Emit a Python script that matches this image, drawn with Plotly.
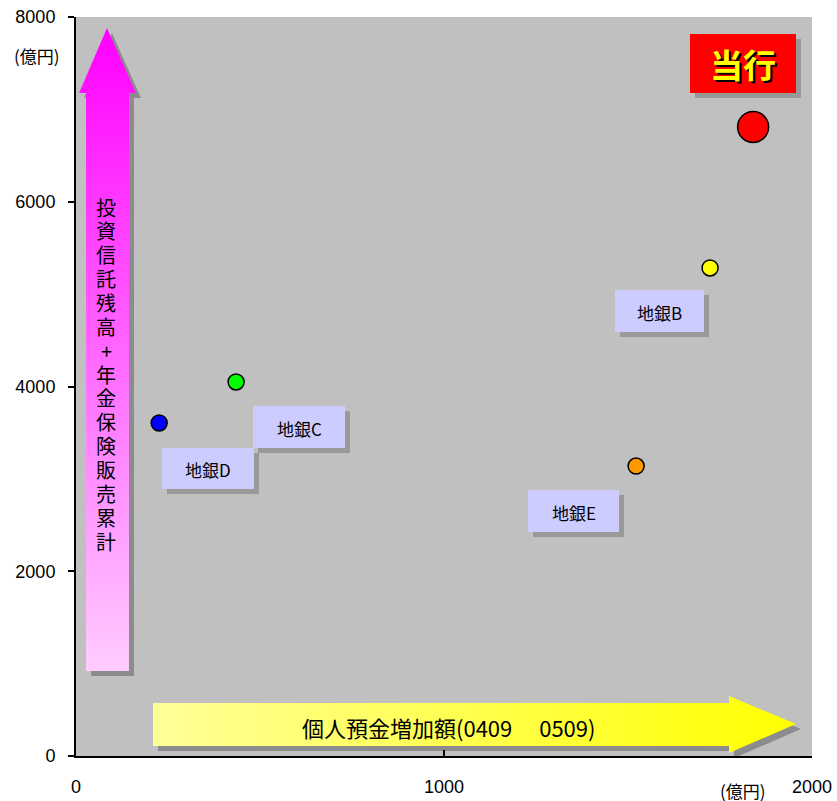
import plotly.graph_objects as go

# ---- data ----
banks = ["当行", "地銀B", "地銀C", "地銀D", "地銀E"]
deposit_increase = [1840, 1723, 435, 226, 1522]          # x (億円)
trust_pension_total = [6810, 5283, 4049, 3605, 3139]     # y (億円)
colors = ["#FF0000", "#FFFF00", "#00FF00", "#0000FF", "#FF9900"]
marker_sizes = [31, 16, 16, 16, 16]
x_ticks = [0, 1000, 2000]
y_ticks = [0, 2000, 4000, 6000, 8000]
x_title = "個人預金増加額(0409　 0509)"
y_title = "投資信託残高+年金保険販売累計"
unit = "(億円)"

FONT = "Liberation Sans, Arial, Noto Sans CJK JP"
CJK = "Noto Sans CJK JP, Liberation Sans"

# plot-area pixel frame
L, R, T, B = 76, 812, 17, 756

def px_paper(px, py):
    return (px - L) / (R - L), (B - py) / (B - T)

fig = go.Figure()

# decorative arrows drawn on an overlay axis that works in page pixels
def poly(pts, dx=0, dy=0):
    xs = [p[0] + dx for p in pts] + [pts[0][0] + dx]
    ys = [p[1] + dy for p in pts] + [pts[0][1] + dy]
    return xs, ys

def path(pts, dx=0, dy=0):
    return "M " + " L ".join(f"{p[0]+dx},{p[1]+dy}" for p in pts) + " Z"

v_arrow = [(107, 28), (136, 93), (129, 93), (129, 671), (86, 671), (86, 93), (79, 93)]
h_arrow = [(153, 703), (729, 703), (729, 696), (796, 724), (729, 753), (729, 746), (153, 746)]

shapes = []
for a in (v_arrow, h_arrow):
    shapes.append(dict(type="path", path=path(a, 5, 5), xref="x2", yref="y2",
                       fillcolor="#8C8C8C", line=dict(width=0), layer="below"))

xs, ys = poly(v_arrow)
fig.add_trace(go.Scatter(x=xs, y=ys, xaxis="x2", yaxis="y2", mode="lines",
                         line=dict(width=0), fill="toself",
                         fillgradient=dict(type="vertical", start=28, stop=671,
                                           colorscale=[[0, "#FF00FF"], [1, "#FFCCFF"]]),
                         hoverinfo="skip", showlegend=False))
xs, ys = poly(h_arrow)
fig.add_trace(go.Scatter(x=xs, y=ys, xaxis="x2", yaxis="y2", mode="lines",
                         line=dict(width=0), fill="toself",
                         fillgradient=dict(type="horizontal", start=153, stop=796,
                                           colorscale=[[0, "#FFFF99"], [1, "#FFFF00"]]),
                         hoverinfo="skip", showlegend=False))

# data points
fig.add_trace(go.Scatter(x=deposit_increase, y=trust_pension_total, mode="markers",
                         text=banks, cliponaxis=False,
                         marker=dict(color=colors, size=marker_sizes, opacity=1,
                                     line=dict(color="#000000", width=1.5)),
                         hovertemplate="%{text}: %{x}, %{y}<extra></extra>",
                         showlegend=False))

# label boxes (pixel positions)
label_boxes = {
    "地銀B": (615, 704, 290, 332),
    "地銀C": (253, 345, 406, 448),
    "地銀D": (162, 254, 448, 489),
    "地銀E": (528, 619, 490, 532),
}
annotations = []
for name, (x0, x1, y0, y1) in label_boxes.items():
    shapes.append(dict(type="rect", xref="x2", yref="y2", x0=x0 + 5, x1=x1 + 5, y0=y0 + 5, y1=y1 + 5,
                       fillcolor="#999999", line=dict(width=0), layer="above"))
    shapes.append(dict(type="rect", xref="x2", yref="y2", x0=x0, x1=x1, y0=y0, y1=y1,
                       fillcolor="#CCCCFF", line=dict(width=0), layer="above"))
    annotations.append(dict(x=(x0 + x1) / 2, y=(y0 + y1) / 2 + 1, xref="x2", yref="y2",
                            text=name, showarrow=False,
                            font=dict(family=CJK, size=17, color="#000000")))

# 当行 box
shapes.append(dict(type="rect", xref="x2", yref="y2", x0=695, x1=801, y0=39, y1=98,
                   fillcolor="#999999", line=dict(width=0), layer="above"))
shapes.append(dict(type="rect", xref="x2", yref="y2", x0=690, x1=796, y0=34, y1=93,
                   fillcolor="#FF0000", line=dict(width=0), layer="above"))
annotations.append(dict(x=743, y=64, xref="x2", yref="y2", text="<b>当行</b>", showarrow=False,
                        font=dict(family=CJK, size=33, color="#FFFF00",
                                  shadow="2px 2px 0px #000000")))

# vertical title, one character per line
n = len(y_title)
y_start, y_end = 207, 541
for i, ch in enumerate(y_title):
    yy = y_start + (y_end - y_start) * i / (n - 1)
    annotations.append(dict(x=106, y=yy, xref="x2", yref="y2", text=ch, showarrow=False,
                            height=23, valign="middle",
                            font=dict(family=CJK, size=20, color="#000000")))

# horizontal title
annotations.append(dict(x=448, y=727, xref="x2", yref="y2", text=x_title, showarrow=False,
                        font=dict(family=CJK, size=22, color="#000000")))

# units (outside the plot area -> paper coordinates)
ux, uy = px_paper(37, 55)
annotations.append(dict(x=ux, y=uy, xref="paper", yref="paper", text=unit, showarrow=False,
                        xanchor="center", yanchor="middle",
                        font=dict(family=CJK, size=17, color="#000000")))
ux, uy = px_paper(743, 790)
annotations.append(dict(x=ux, y=uy, xref="paper", yref="paper", text=unit, showarrow=False,
                        xanchor="center", yanchor="middle",
                        font=dict(family=CJK, size=17, color="#000000")))

fig.update_layout(
    width=837, height=801,
    margin=dict(l=L, r=837 - R, t=T, b=801 - B, pad=0),
    paper_bgcolor="#FFFFFF", plot_bgcolor="#C0C0C0",
    shapes=shapes, annotations=annotations,
    showlegend=False,
    xaxis=dict(range=[0, 2000], tickvals=x_ticks, ticktext=[str(v) for v in x_ticks],
               ticks="inside", ticklen=6, tickcolor="#000000", tickwidth=1.5,
               showline=True, linecolor="#000000", linewidth=2,
               showgrid=False, zeroline=False, fixedrange=True, automargin=False,
               ticklabelstandoff=13,
               tickfont=dict(family=FONT, size=18, color="#000000")),
    yaxis=dict(range=[0, 8000], tickvals=y_ticks, ticktext=[str(v) for v in y_ticks],
               ticks="outside", ticklen=6, tickcolor="#000000", tickwidth=1.5,
               showline=True, linecolor="#000000", linewidth=2,
               showgrid=False, zeroline=False, fixedrange=True, automargin=False,
               ticklabelstandoff=9,
               tickfont=dict(family=FONT, size=18, color="#000000")),
    xaxis2=dict(overlaying="x", anchor="y2", range=[L, R], visible=False,
                fixedrange=True, automargin=False),
    yaxis2=dict(overlaying="y", anchor="x2", range=[B, T], visible=False,
                fixedrange=True, automargin=False),
)

fig.write_html("out.html", config={"displayModeBar": False},
               post_script="document.body.style.margin='0px';")
